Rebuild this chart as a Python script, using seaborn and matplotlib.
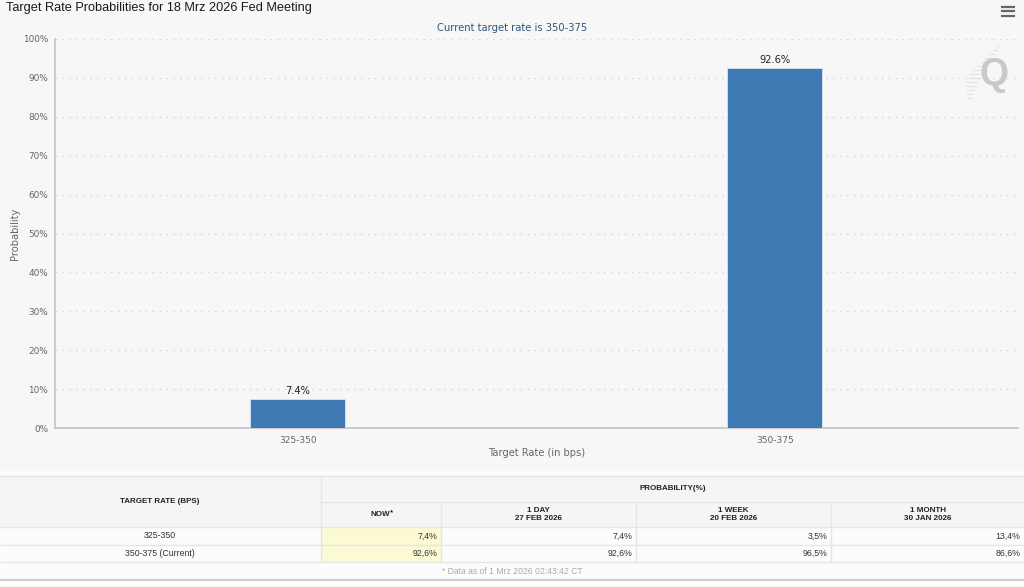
import matplotlib
matplotlib.use("Agg")
import pandas as pd
import seaborn as sns
from matplotlib import pyplot as plt
from matplotlib.patches import Rectangle

rates = ["325-350", "350-375"]
probs = [7.4, 92.6]
bar_labels = ["7.4%", "92.6%"]
yticks = [0, 10, 20, 30, 40, 50, 60, 70, 80, 90, 100]

row_names = ["325-350", "350-375 (Current)"]
col_heads = ["NOW", "1 DAY\n27 FEB 2026", "1 WEEK\n20 FEB 2026", "1 MONTH\n30 JAN 2026"]
now_vals = ["7,4%", "92,6%"]
day_vals = ["7,4%", "92,6%"]
week_vals = ["3,5%", "96,5%"]
month_vals = ["13,4%", "86,6%"]

W, H = 1024, 587
BG = "#f7f7f7"
AX_L, AX_R, AX_T, AX_B = 54.5, 1018, 39, 428

sns.set_theme(style="white")
plt.rcParams["font.family"] = ["DejaVu Sans"]

fig = plt.figure(figsize=(W / 100, H / 100), dpi=100, facecolor=BG)
ax = fig.add_axes([AX_L / W, 1 - AX_B / H, (AX_R - AX_L) / W, (AX_B - AX_T) / H])
ax.set_facecolor(BG)

df = pd.DataFrame({"rate": rates, "prob": probs})
sns.barplot(data=df, x="rate", y="prob", color="#3f7ab5", saturation=1, width=0.2,
            edgecolor="#e8eef4", linewidth=0.5, ax=ax, zorder=3)
ax.set_xlim(-0.51, 1.51)
ax.set_ylim(0, 100)
ax.set_yticks(yticks)
ax.set_yticklabels([f"{t}%" for t in yticks], fontsize=6.4, color="#666666")
ax.tick_params(axis="y", length=0, pad=4.5)
ax.tick_params(axis="x", length=4, width=0.7, color="#c8c8c8", labelsize=6.5, labelcolor="#666666", pad=2)
ax.grid(axis="y", color="#d4d4d4", linestyle=(0, (1, 4)), linewidth=1, zorder=0)
ax.set_xlabel("Target Rate (in bps)", fontsize=7.1, color="#666666", va="center")
ax.set_ylabel("Probability", fontsize=7.1, color="#666666", va="center")
ax.xaxis.set_label_coords(0.5, (AX_B - 453.5) / (AX_B - AX_T))
ax.yaxis.set_label_coords((15 - AX_L) / (AX_R - AX_L), 0.5)
for side in ["top", "right"]:
    ax.spines[side].set_visible(False)
for side in ["left", "bottom"]:
    ax.spines[side].set_color("#c4c4c4")
    ax.spines[side].set_linewidth(1.2)
for i, lab in enumerate(bar_labels):
    ax.annotate(lab, (i, probs[i]), xytext=(0, 2), textcoords="offset points", ha="center",
                va="bottom", fontsize=7.1, color="#222222")

# everything outside the plot, in pixel coordinates
ov = fig.add_axes([0, 0, 1, 1], zorder=5)
ov.set_xlim(0, W)
ov.set_ylim(H, 0)
ov.axis("off")

helv = "Liberation Sans"
ov.text(6, 8.5, "Target Rate Probabilities for 18 Mrz 2026 Fed Meeting", fontsize=9.15,
        family=helv, color="#1a1a1a", va="center")
ov.text(512, 28, "Current target rate is 350-375", fontsize=7.2, color="#34557a", ha="center", va="center")

# menu icon
for y in [6.5, 11, 15.5]:
    ov.plot([1001, 1014.5], [y, y], color="#666666", lw=1.6, solid_capstyle="butt")

# watermark
for i in range(14):
    y = 46 + i * 4
    half = 7 - abs(i - 7) * 0.8
    x = 998 - i * 3.2 if i < 8 else 972 - (i - 8) * 0.5
    ov.plot([x - half, x + half], [y, y], color="#e2e2e2", lw=0.8)
ov.text(994, 75, "Q", fontsize=27, family=helv, weight="bold", color="#c9c9c9", ha="center", va="center")

# table
col_x = [321, 441, 636, 831, 1024]
line = "#e6e6e6"
ov.add_patch(Rectangle((0, 476), W, 51, fc="#f5f5f5", ec="none"))
ov.add_patch(Rectangle((0, 527), W, 53, fc="#fcfcfc", ec="none"))
ov.add_patch(Rectangle((321, 527), 120, 35, fc="#fbfad3", ec="none"))
ov.add_patch(Rectangle((0, 471), W, 5, fc="#fcfcfc", ec="none"))
ov.add_patch(Rectangle((0, 581), W, 6, fc="#ffffff", ec="none"))
for y in [476, 527, 545, 562]:
    ov.plot([0, W], [y, y], color=line, lw=1)
ov.plot([321, W], [502, 502], color=line, lw=1)
ov.plot([0, W], [580, 580], color="#cfcfcf", lw=1.6)
ov.plot([321, 321], [476, 562], color=line, lw=1)
for x in col_x[1:4]:
    ov.plot([x, x], [502, 562], color=line, lw=1)

ov.text(160, 501.5, "TARGET RATE (BPS)", fontsize=5.75, family=helv, weight="bold", color="#222222", ha="center", va="center")
ov.text(673, 489, "PROBABILITY(%)", fontsize=5.75, family=helv, weight="bold", color="#222222", ha="center", va="center")
for j, head in enumerate(col_heads):
    cx = (col_x[j] + col_x[j + 1]) / 2
    ov.text(cx - (1 if j == 0 else 0), 514.5, head, fontsize=5.75, family=helv, weight="bold", color="#222222",
            ha="center", va="center", linespacing=1.15)
ov.text(390, 513, "*", fontsize=5.75, family=helv, weight="bold", color="#222222", ha="left", va="center")

for r, name in enumerate(row_names):
    y = 536 + r * 17.5
    ov.text(160, y, name, fontsize=6.3, family=helv, color="#333333", ha="center", va="center")
    for j, vals in enumerate([now_vals, day_vals, week_vals, month_vals]):
        ov.text(col_x[j + 1] - 3.5, y, vals[r], fontsize=6.3, family=helv, color="#333333", ha="right", va="center")

ov.text(512, 571, "* Data as of 1 Mrz 2026 02:43:42 CT", fontsize=6.25, family=helv, color="#aaaaaa", ha="center", va="center")

fig.savefig("out.png", dpi=100, facecolor=BG)
